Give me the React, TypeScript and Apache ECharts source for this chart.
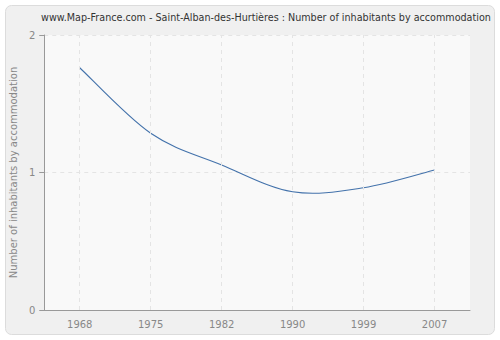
import React, { useEffect, useRef } from "react";
import * as echarts from "echarts";

const categories = ["1968", "1975", "1982", "1990", "1999", "2007"];
const values = [1.762, 1.285, 1.055, 0.86, 0.889, 1.018];
const yTicks = [0, 1, 2];
const title = "www.Map-France.com - Saint-Alban-des-Hurtières : Number of inhabitants by accommodation";
const yName = "Number of inhabitants by accommodation";

export default function App() {
  const ref = useRef<HTMLDivElement>(null);
  useEffect(() => {
    const chart = echarts.init(ref.current!, null, { renderer: "svg" });
    const font = "DejaVu Sans, Verdana, sans-serif";
    chart.setOption({
      animation: false,
      backgroundColor: "transparent",
      textStyle: { fontFamily: font },
      graphic: [
        {
          type: "rect",
          shape: { x: 5.5, y: 5.5, width: 489, height: 329, r: 6 },
          style: { fill: "#f0f0f0", stroke: "#dcdcdc", lineWidth: 1 },
          z: -10,
        },
        {
          type: "text",
          x: 266,
          y: 17,
          style: {
            text: title,
            fill: "#333",
            font: "9.6px " + font,
            align: "center",
            verticalAlign: "middle",
          },
        },
      ],
      grid: {
        left: 40,
        right: 30,
        top: 35,
        bottom: 30,
        show: true,
        backgroundColor: "#f9f9f9",
        borderWidth: 0,
      },
      xAxis: {
        type: "category",
        data: categories,
        boundaryGap: true,
        axisLine: { lineStyle: { color: "#999" } },
        axisTick: { alignWithLabel: true, length: 5, lineStyle: { color: "#999" } },
        axisLabel: { color: "#888", fontSize: 10, margin: 9, fontFamily: font },
        splitLine: { show: false },
      },
      yAxis: {
        type: "value",
        min: 0,
        max: 2,
        interval: 1,
        name: yName,
        nameLocation: "middle",
        nameGap: 26,
        nameTextStyle: { color: "#888", fontSize: 10, fontFamily: font },
        axisLine: { show: true, lineStyle: { color: "#999" } },
        axisTick: { show: true, length: 5, lineStyle: { color: "#999" } },
        axisLabel: {
          color: "#888",
          fontSize: 10,
          margin: 9,
          fontFamily: font,
          formatter: (v: number) => (yTicks.includes(v) ? String(v) : ""),
        },
        splitLine: { show: true, lineStyle: { color: "#e4e4e4", type: [4, 4] } },
      },
      series: [
        {
          type: "custom",
          data: values.map((v, i) => [i, v]),
          renderItem: (params: any, api: any) => {
            if (params.dataIndex !== 0) return null;
            const pts = values.map((v, i) => api.coord([i, v]));
            const n = pts.length;
            let d = `M${pts[0][0]},${pts[0][1]}`;
            for (let i = 0; i < n - 1; i++) {
              const p0 = pts[Math.max(i - 1, 0)];
              const p1 = pts[i];
              const p2 = pts[i + 1];
              const p3 = pts[Math.min(i + 2, n - 1)];
              const c1x = p1[0] + (p2[0] - p0[0]) / 6;
              const c1y = p1[1] + (p2[1] - p0[1]) / 6;
              const c2x = p2[0] - (p3[0] - p1[0]) / 6;
              const c2y = p2[1] - (p3[1] - p1[1]) / 6;
              d += ` C${c1x},${c1y} ${c2x},${c2y} ${p2[0]},${p2[1]}`;
            }
            return {
              type: "path",
              shape: { pathData: d },
              style: { fill: "none", stroke: "#4372ab", lineWidth: 1.1 },
              z2: 10,
            };
          },
          markLine: {
            silent: true,
            symbol: "none",
            label: { show: false },
            lineStyle: { color: "#e4e4e4", type: [4, 4], width: 1 },
            data: categories.map((c) => ({ xAxis: c })),
          },
          z: 3,
        },
      ],
    });
    return () => chart.dispose();
  }, []);
  return <div ref={ref} style={{ width: 500, height: 340, position: "absolute", left: 0, top: 0 }} />;
}
